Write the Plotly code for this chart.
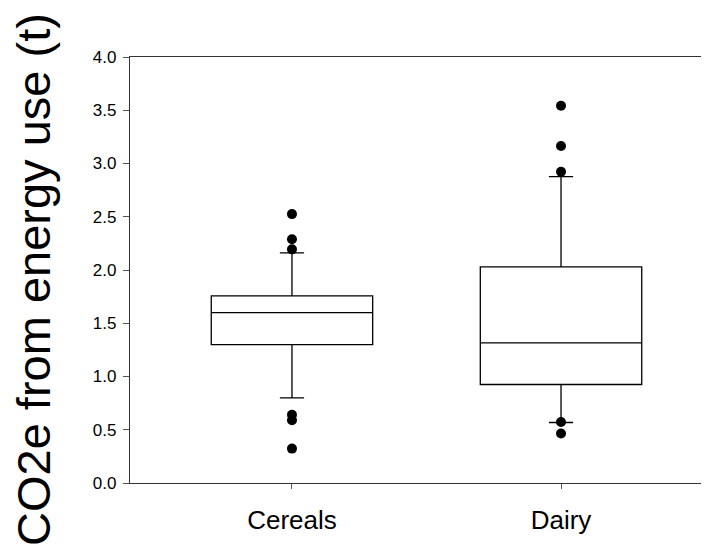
import plotly.graph_objects as go

categories = ["Cereals", "Dairy"]
q1 = [1.30, 0.925]
median = [1.60, 1.316]
q3 = [1.757, 2.03]
lower_whisker = [0.80, 0.568]
upper_whisker = [2.16, 2.876]
outliers_cereals = [2.525, 2.288, 2.194, 0.64, 0.59, 0.323]
outliers_dairy = [3.543, 3.164, 2.923, 0.573, 0.464]
y_ticks = [0.0, 0.5, 1.0, 1.5, 2.0, 2.5, 3.0, 3.5, 4.0]

FONT = "Liberation Sans, Arial, sans-serif"

fig = go.Figure()
fig.add_trace(go.Box(
    x=categories, q1=q1, median=median, q3=q3,
    lowerfence=lower_whisker, upperfence=upper_whisker,
    width=0.6, whiskerwidth=0.15,
    fillcolor="white", line=dict(color="black", width=1.3),
    boxpoints=False, showlegend=False, hoverinfo="skip",
))
out_x = [categories[0]] * len(outliers_cereals) + [categories[1]] * len(outliers_dairy)
out_y = outliers_cereals + outliers_dairy
fig.add_trace(go.Scatter(
    x=out_x, y=out_y, mode="markers",
    marker=dict(color="black", size=10),
    showlegend=False, hoverinfo="skip",
))

fig.update_layout(
    width=701, height=544,
    margin=dict(l=122, r=0, t=49, b=69),
    plot_bgcolor="white", paper_bgcolor="white",
    font=dict(family=FONT, color="black"),
    showlegend=False,
)
fig.update_xaxes(
    type="category", categoryorder="array", categoryarray=categories,
    range=[-0.602, 1.55],
    showline=True, linecolor="#333", linewidth=1.3, mirror=True,
    ticks="outside", ticklen=5, tickcolor="#555", tickwidth=1.3,
    tickfont=dict(size=26, family=FONT, color="black"),
    ticklabelstandoff=9,
    showgrid=False, zeroline=False,
)
fig.update_yaxes(
    range=[0, 4.0], tickvals=y_ticks,
    ticktext=[f"{v:.1f}" for v in y_ticks],
    showline=True, linecolor="#333", linewidth=1.3,
    ticks="outside", ticklen=6, tickcolor="#555", tickwidth=1.3,
    tickfont=dict(size=17, family=FONT, color="black"),
    ticklabelstandoff=3,
    showgrid=False, zeroline=False,
)
fig.add_annotation(
    text="CO2e from energy use (t)", textangle=-90,
    xref="paper", yref="paper", x=0, y=0.4765,
    xanchor="center", yanchor="middle", xshift=-97,
    showarrow=False, font=dict(size=47, family=FONT, color="black"),
)
fig.write_html("out.html")
